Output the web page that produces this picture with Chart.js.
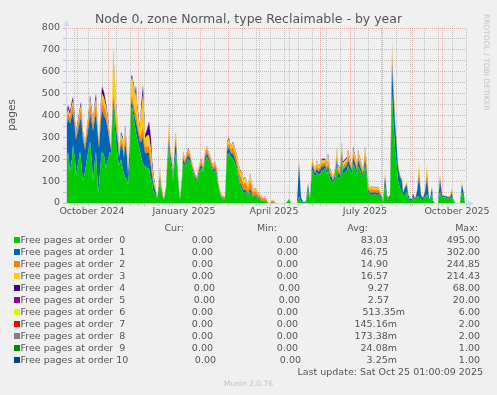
<!DOCTYPE html>
<html>
<head>
<meta charset="utf-8">
<script src="https://cdn.jsdelivr.net/npm/chart.js@4.4.1/dist/chart.umd.min.js"></script>
<style>
  body { margin: 0; background: #F0F0F0; }
  #wrap { position: relative; width: 497px; height: 395px; background: #F0F0F0; overflow: hidden;
          font-family: "DejaVu Sans", sans-serif; color: #555; }
  #chart { position: absolute; left: 0; top: 0; }
  .t { position: absolute; white-space: pre; font-size: 9.5px; line-height: 12px; }
  #title { position: absolute; left: 0; top: 11px; width: 497px; text-align: center; font-size: 12.5px; line-height: 15px; }
  #ylab { position: absolute; left: -19px; top: 109px; width: 60px; text-align: center; font-size: 10.5px;
          line-height: 12px; transform: rotate(-90deg); }
  #rrd { position: absolute; left: 482px; top: 14px; writing-mode: vertical-rl; font-size: 7.5px; color: #C4C4C4; }
  #munin { position: absolute; left: 0; top: 379px; width: 497px; text-align: center; font-size: 7.5px; color: #C4C4C4; }
  .box { position: absolute; width: 6px; height: 6px; }
</style>
</head>
<body>
<div id="wrap">
  <canvas id="chart" width="497" height="225"></canvas>
  <div id="title">Node 0, zone Normal, type Reclaimable - by year</div>
  <div id="ylab">pages</div>
  <div id="rrd">RRDTOOL / TOBI OETIKER</div>
  <div id="legend"></div>
  <div id="munin">Munin 2.0.76</div>
</div>
<script>
// days since the start of the graph (Sep 20 2024)
const days = [
  0, 2, 4, 6, 7, 9, 10, 12, 14, 15,
  17, 19, 21, 23, 24, 26, 27, 29, 30, 32,
  33, 35, 36, 38, 40, 42, 44, 45, 46, 47,
  48, 49, 50, 52, 53, 55, 57, 58, 59, 61,
  62, 64, 65, 66, 68, 69, 70, 71, 73, 74,
  75, 77, 78, 79, 81, 83, 84, 85, 86, 87,
  88, 90, 91, 92, 94, 95, 97, 98, 100, 101,
  103, 104, 106, 107, 109, 110, 112, 114, 116, 117,
  119, 120, 122, 124, 126, 129, 131, 132, 134, 136,
  137, 139, 141, 142, 144, 146, 147, 149, 151, 152,
  154, 156, 159, 161, 163, 165, 167, 169, 171, 172,
  174, 176, 177, 179, 181, 182, 184, 186, 187, 189,
  191, 192, 194, 196, 197, 199, 201, 202, 204, 206,
  208, 210, 220, 223, 225, 231, 233, 235, 237, 239,
  240, 242, 244, 246, 247, 249, 251, 252, 254, 256,
  257, 259, 261, 262, 264, 266, 267, 269, 271, 272,
  274, 276, 277, 279, 281, 282, 284, 286, 287, 289,
  291, 292, 294, 296, 297, 299, 301, 302, 304, 306,
  307, 309, 311, 312, 314, 316, 317, 319, 321, 322,
  324, 326, 327, 328, 329, 331, 332, 334, 336, 337,
  339, 341, 342, 344, 346, 347, 349, 351, 353, 355,
  357, 359, 361, 363, 364, 366, 367, 369, 372, 374,
  376, 378, 380, 382, 384, 386, 387, 389, 394, 396,
  398, 399, 400
];

// free pages at order 0
const order0 = [
  160, 235, 144, 200, 266, 200, 128, 180, 235, 200,
  98, 144, 200, 260, 280, 180, 98, 200, 235, 52,
  80, 200, 235, 220, 159, 200, 235, 220, 330, 450,
  420, 340, 280, 200, 170, 200, 150, 130, 120, 110,
  80, 200, 420, 440, 380, 350, 320, 300, 260, 235,
  210, 180, 170, 170, 159, 159, 130, 110, 98, 60,
  50, 30, 20, 40, 100, 60, 25, 15, 60, 150,
  250, 200, 150, 100, 200, 230, 100, 15, 100, 180,
  170, 180, 200, 190, 150, 110, 100, 120, 150, 160,
  140, 190, 210, 200, 180, 150, 140, 150, 120, 80,
  40, 20, 15, 220, 230, 210, 200, 180, 150, 120,
  80, 60, 50, 50, 40, 30, 50, 40, 25, 30,
  25, 20, 15, 10, 10, 10, 5, 0, 0, 0,
  0, 0, 0, 15, 0, 0, 30, 5, 0, 0,
  5, 60, 15, 150, 140, 120, 140, 130, 130, 150,
  145, 160, 130, 150, 110, 100, 90, 110, 170, 120,
  110, 200, 130, 140, 150, 170, 150, 130, 180, 160,
  130, 170, 150, 120, 110, 170, 110, 50, 35, 40,
  35, 40, 35, 40, 30, 20, 0, 80, 25, 15,
  25, 495, 400, 330, 250, 160, 100, 70, 55, 30,
  40, 50, 25, 10, 10, 25, 10, 30, 30, 20,
  12, 30, 40, 10, 10, 40, 5, 0, 0, 50,
  25, 25, 25, 20, 22, 30, 15, 0, 0, 50,
  25, 0, 0
];

// order 1
const order1 = [
  180, 150, 220, 200, 150, 130, 160, 150, 140, 190,
  190, 100, 100, 100, 130, 180, 230, 190, 170, 240,
  170, 180, 190, 180, 220, 130, 35, 22, 30, 20,
  25, 60, 60, 70, 35, 70, 90, 75, 160, 100,
  45, 60, 30, 25, 35, 35, 50, 45, 40, 45,
  70, 120, 90, 60, 70, 70, 60, 55, 30, 35,
  25, 12, 2, 6, 15, 10, 3, 1, 5, 10,
  40, 25, 25, 15, 50, 45, 12, 2, 10, 20,
  10, 15, 20, 15, 12, 10, 6, 10, 15, 15,
  6, 15, 20, 15, 12, 12, 10, 12, 12, 6,
  4, 3, 3, 20, 25, 18, 25, 20, 15, 15,
  12, 15, 10, 12, 10, 8, 15, 8, 5, 6,
  5, 4, 3, 2, 2, 2, 1, 0, 0, 2,
  1, 0, 0, 3, 0, 0, 150, 20, 5, 5,
  5, 25, 5, 25, 20, 15, 20, 15, 20, 20,
  20, 15, 18, 25, 18, 15, 12, 18, 30, 20,
  18, 30, 22, 22, 22, 28, 20, 18, 28, 22,
  20, 28, 22, 20, 18, 30, 20, 12, 10, 12,
  10, 10, 10, 10, 8, 5, 5, 40, 10, 6,
  10, 150, 130, 120, 110, 75, 65, 50, 45, 18,
  30, 30, 15, 8, 8, 18, 8, 20, 90, 15,
  10, 20, 70, 8, 8, 30, 5, 0, 0, 60,
  10, 6, 6, 6, 6, 15, 6, 0, 0, 35,
  12, 0, 0
];

// order 2
const order2 = [
  25, 30, 25, 35, 35, 25, 20, 25, 35, 40,
  25, 18, 30, 40, 45, 35, 30, 40, 45, 22,
  18, 40, 45, 45, 35, 25, 12, 8, 15, 20,
  25, 30, 30, 25, 12, 25, 25, 20, 35, 25,
  10, 30, 25, 25, 30, 30, 40, 35, 25, 25,
  40, 45, 40, 25, 30, 30, 35, 30, 20, 20,
  15, 8, 2, 8, 25, 15, 6, 3, 8, 25,
  45, 20, 15, 8, 25, 25, 8, 2, 10, 20,
  12, 15, 18, 15, 12, 12, 8, 12, 15, 15,
  8, 18, 20, 15, 17, 17, 15, 17, 17, 11,
  10, 7, 7, 20, 22, 17, 30, 28, 30, 30,
  35, 35, 28, 32, 28, 24, 40, 24, 17, 19,
  17, 15, 13, 11, 8, 11, 5, 3, 0, 9,
  6, 0, 0, 2, 0, 0, 10, 3, 0, 0,
  0, 8, 0, 15, 15, 12, 17, 12, 15, 15,
  15, 12, 14, 20, 14, 12, 9, 14, 20, 15,
  14, 22, 16, 17, 17, 20, 14, 12, 20, 16,
  14, 20, 16, 17, 15, 28, 25, 15, 13, 15,
  13, 13, 13, 13, 12, 5, 0, 12, 3, 2,
  3, 50, 35, 25, 20, 12, 8, 5, 5, 2,
  5, 10, 5, 1, 1, 4, 1, 6, 35, 3,
  2, 6, 40, 1, 1, 6, 0, 0, 0, 15,
  3, 2, 2, 2, 4, 14, 2, 0, 0, 8,
  2, 0, 0
];

// order 3
const order3 = [
  15, 15, 15, 15, 15, 10, 8, 12, 15, 15,
  8, 6, 10, 15, 20, 12, 12, 20, 25, 8,
  7, 25, 30, 35, 25, 20, 10, 5, 20, 200,
  160, 115, 75, 45, 12, 20, 22, 15, 25, 15,
  5, 45, 85, 85, 80, 70, 100, 60, 40, 32,
  90, 150, 95, 40, 50, 50, 50, 45, 25, 20,
  15, 6, 1, 5, 20, 12, 5, 2, 6, 12,
  25, 12, 8, 5, 18, 16, 6, 2, 6, 10,
  6, 7, 8, 7, 8, 6, 5, 6, 7, 7,
  5, 9, 9, 7, 8, 8, 7, 8, 8, 6,
  5, 4, 4, 15, 15, 11, 20, 17, 20, 20,
  23, 25, 18, 22, 18, 15, 27, 15, 11, 13,
  11, 9, 8, 6, 4, 6, 3, 2, 0, 4,
  3, 0, 0, 0, 0, 0, 8, 2, 0, 0,
  0, 5, 0, 12, 12, 10, 14, 10, 12, 14,
  14, 12, 12, 20, 12, 9, 6, 12, 22, 14,
  12, 20, 15, 15, 15, 18, 12, 11, 20, 15,
  12, 18, 12, 14, 12, 22, 20, 11, 10, 11,
  10, 10, 10, 10, 9, 5, 0, 10, 2, 2,
  2, 40, 28, 20, 16, 9, 6, 4, 4, 2,
  5, 8, 5, 1, 1, 3, 1, 4, 25, 2,
  1, 4, 30, 1, 1, 4, 0, 0, 0, 12,
  2, 2, 2, 2, 3, 10, 2, 0, 0, 5,
  1, 0, 0
];

// order 4
const order4 = [
  15, 15, 12, 15, 16, 12, 8, 10, 12, 15,
  7, 5, 8, 12, 16, 10, 8, 16, 24, 6,
  4, 20, 28, 25, 17, 12, 4, 2, 4, 10,
  9, 12, 12, 8, 4, 10, 10, 8, 15, 8,
  3, 12, 10, 10, 12, 12, 25, 16, 12, 10,
  25, 40, 30, 14, 25, 55, 55, 52, 22, 16,
  8, 3, 0, 1, 5, 2, 1, 0, 1, 2,
  5, 2, 2, 2, 4, 4, 2, 0, 2, 4,
  2, 3, 4, 3, 3, 2, 1, 2, 3, 3,
  1, 3, 3, 3, 3, 3, 3, 3, 3, 2,
  1, 1, 1, 5, 5, 3, 5, 4, 4, 4,
  4, 4, 3, 3, 3, 2, 4, 2, 2, 2,
  2, 2, 1, 1, 1, 1, 1, 0, 0, 0,
  0, 0, 0, 0, 0, 0, 2, 0, 0, 0,
  0, 0, 0, 3, 3, 2, 4, 3, 3, 6,
  6, 6, 6, 10, 5, 4, 3, 5, 8, 6,
  5, 8, 7, 6, 6, 8, 4, 4, 9, 7,
  4, 8, 5, 4, 4, 7, 5, 2, 2, 2,
  2, 2, 2, 2, 1, 0, 0, 2, 0, 0,
  0, 8, 6, 4, 3, 2, 1, 1, 1, 0,
  0, 0, 0, 0, 0, 0, 0, 0, 0, 0,
  0, 0, 0, 0, 0, 0, 0, 0, 0, 0,
  0, 0, 0, 0, 0, 0, 0, 0, 0, 0,
  0, 0, 0
];

// order 5
const order5 = [
  5, 4, 4, 5, 5, 3, 3, 3, 3, 4,
  2, 2, 2, 3, 4, 3, 2, 4, 4, 2,
  2, 5, 5, 5, 4, 3, 2, 1, 1, 1,
  1, 3, 3, 2, 2, 2, 3, 2, 3, 2,
  1, 3, 2, 2, 3, 3, 6, 4, 3, 3,
  5, 6, 5, 3, 6, 9, 10, 8, 5, 4,
  2, 1, 0, 0, 1, 1, 0, 0, 0, 1,
  1, 1, 0, 0, 1, 1, 0, 0, 0, 1,
  0, 0, 1, 0, 0, 0, 0, 0, 0, 0,
  0, 0, 1, 0, 0, 0, 0, 0, 0, 0,
  0, 0, 0, 1, 1, 1, 1, 1, 1, 1,
  1, 1, 1, 1, 1, 1, 1, 1, 0, 0,
  0, 0, 0, 0, 0, 0, 0, 0, 0, 0,
  0, 0, 0, 0, 0, 0, 0, 0, 0, 0,
  0, 0, 0, 0, 0, 0, 0, 0, 0, 0,
  0, 0, 0, 2, 0, 0, 0, 0, 1, 0,
  0, 1, 0, 0, 0, 0, 0, 0, 1, 0,
  0, 0, 0, 0, 0, 1, 0, 0, 0, 0,
  0, 0, 0, 0, 0, 0, 0, 0, 0, 0,
  0, 2, 1, 1, 1, 0, 0, 0, 0, 0,
  0, 0, 0, 0, 0, 0, 0, 0, 0, 0,
  0, 0, 0, 0, 0, 0, 0, 0, 0, 0,
  0, 0, 0, 0, 0, 0, 0, 0, 0, 0,
  0, 0, 0
];

// orders 6..10 are zero almost everywhere: [day, pages]
const order6 = [[30, 3], [36, 4], [70, 6], [77, 5], [83, 4], [84, 5]];
const order7 = [[36, 2], [77, 1]];
const order8 = [[70, 2], [84, 1]];
const order9 = [[84, 1]];
const order10 = [[77, 1]];

// legend
const seriesNames = [
  "Free pages at order  0", "Free pages at order  1", "Free pages at order  2",
  "Free pages at order  3", "Free pages at order  4", "Free pages at order  5",
  "Free pages at order  6", "Free pages at order  7", "Free pages at order  8",
  "Free pages at order  9", "Free pages at order 10"
];
const curValues = ["0.00", "0.00", "0.00", "0.00", "0.00", "0.00", "0.00", "0.00", "0.00", "0.00", "0.00"];
const minValues = ["0.00", "0.00", "0.00", "0.00", "0.00", "0.00", "0.00", "0.00", "0.00", "0.00", "0.00"];
const avgValues = ["83.03", "46.75", "14.90", "16.57", "9.27", "2.57", "513.35m", "145.16m", "173.38m", "24.08m", "3.25m"];
const maxValues = ["495.00", "302.00", "244.85", "214.43", "68.00", "20.00", "6.00", "2.00", "2.00", "1.00", "1.00"];
const colors = ["#00CC00", "#0066B3", "#FF8000", "#FFCC00", "#330099", "#990099",
                "#CCFF00", "#FF0000", "#808080", "#008F00", "#00487D"];

// x axis: month starts, two-week grid, labels in mid month
const monthDays = [11, 42, 72, 103, 134, 162, 193, 223, 254, 284, 315, 346, 376];
const weekDays = [8, 22, 36, 50, 64, 78, 92, 106, 120, 134, 148, 162, 176, 190, 204, 218,
                  232, 246, 260, 274, 288, 302, 316, 330, 344, 358, 372, 386, 400];
const xLabels = { 26: "October 2024", 118: "January 2025", 208: "April 2025", 299: "July 2025", 391: "October 2025" };


// sparse list -> full series
function fromPairs(pairs) {
  return days.map(d => {
    const hit = pairs.find(p => p[0] === d);
    return hit ? hit[1] : 0;
  });
}

const allSeries = [order0, order1, order2, order3, order4, order5,
  fromPairs(order6), fromPairs(order7), fromPairs(order8), fromPairs(order9), fromPairs(order10)];

const datasets = allSeries.map((vals, i) => ({
  label: seriesNames[i],
  data: days.map((d, k) => ({ x: d, y: vals[k] })),
  backgroundColor: colors[i],
  borderWidth: 0,
  pointRadius: 0,
  tension: 0,
  fill: i === 0 ? "origin" : "-1"
}));


// grid colours (lighter dotted lines like rrdtool)
const majorGrid = "rgba(222, 79, 79, 0.42)";
const minorGrid = "rgba(143, 143, 143, 0.5)";
const tickFont = { family: "DejaVu Sans", size: 9.5 };

const xTickValues = [...new Set([...monthDays, ...weekDays, ...Object.keys(xLabels).map(Number)])].sort((a, b) => a - b);

function xGridColor(c) {
  const v = c.tick ? c.tick.value : null;
  if (monthDays.includes(v)) return majorGrid;
  if (weekDays.includes(v)) return minorGrid;
  return "rgba(0,0,0,0)";
}

function yGridColor(c) {
  const v = c.tick ? c.tick.value : 0;
  return v % 100 === 0 ? majorGrid : minorGrid;
}


// axis lines with arrows
const axisArrows = {
  id: "axisArrows",
  afterDraw(chart) {
    const c = chart.ctx;
    const a = chart.chartArea;
    c.save();
    c.strokeStyle = "#CFD6F8";
    c.fillStyle = "#CFD6F8";
    c.lineWidth = 1;
    c.beginPath();
    c.moveTo(a.left + 0.5, a.bottom + 0.5);
    c.lineTo(a.left + 0.5, a.top - 3);
    c.moveTo(a.left, a.bottom + 0.5);
    c.lineTo(a.right + 3, a.bottom + 0.5);
    c.stroke();
    c.beginPath();
    c.moveTo(a.left - 2.5, a.top - 2);
    c.lineTo(a.left + 3.5, a.top - 2);
    c.lineTo(a.left + 0.5, a.top - 8);
    c.closePath();
    c.fill();
    c.beginPath();
    c.moveTo(a.right + 2, a.bottom - 2.5);
    c.lineTo(a.right + 2, a.bottom + 3.5);
    c.lineTo(a.right + 8, a.bottom + 0.5);
    c.closePath();
    c.fill();
    c.restore();
  }
};


// chart
const chart = new Chart(document.getElementById("chart"), {
  type: "line",
  data: { datasets: datasets },
  options: {
    responsive: false,
    animation: false,
    devicePixelRatio: 1,
    layout: { padding: { top: 28, right: 31, left: 0, bottom: 0 } },
    plugins: {
      legend: { display: false },
      tooltip: { enabled: false },
      title: { display: false }
    },
    scales: {
      x: {
        type: "linear",
        min: 0,
        max: 400,
        afterFit: s => { s.height = 22; },
        afterBuildTicks: s => { s.ticks = xTickValues.map(v => ({ value: v })); },
        ticks: {
          autoSkip: false,
          maxRotation: 0,
          padding: 0,
          color: "#555",
          font: tickFont,
          callback: v => xLabels[v] || ""
        },
        grid: { color: xGridColor, tickColor: xGridColor, tickLength: 3, lineWidth: 1 },
        border: { display: false, dash: [1, 1] }
      },
      y: {
        type: "linear",
        stacked: true,
        min: 0,
        max: 800,
        afterFit: s => { s.width = 66; },
        afterBuildTicks: s => {
          const t = [];
          for (let v = 0; v <= 800; v += 50) t.push({ value: v });
          s.ticks = t;
        },
        ticks: {
          autoSkip: false,
          padding: 3,
          color: "#555",
          font: tickFont,
          callback: v => (v % 100 === 0 ? String(v) : "")
        },
        grid: { color: yGridColor, tickColor: yGridColor, tickLength: 3, lineWidth: 1 },
        border: { display: false, dash: [1, 1] }
      }
    }
  },
  plugins: [axisArrows]
});


// legend below the chart
const legend = document.getElementById("legend");

function addText(text, left, right, centerY) {
  const el = document.createElement("div");
  el.className = "t";
  el.textContent = text;
  el.style.top = (centerY - 6) + "px";
  if (right !== null) {
    el.style.right = (497 - right) + "px";
  } else {
    el.style.left = left + "px";
  }
  legend.appendChild(el);
}

// header
addText("Cur:", null, 184, 228);
addText("Min:", null, 277, 228);
addText("Avg:", null, 368, 228);
addText("Max:", null, 478, 228);

seriesNames.forEach((name, i) => {
  const y = 240 + 12 * i;
  const shift = (i === 4 || i === 5) ? 2 : (i === 10 ? 3 : 0);
  const avgRight = i < 6 ? 388 + (shift ? 1 : 0) : (i === 6 ? 405 : 397);

  const box = document.createElement("div");
  box.className = "box";
  box.style.left = "14px";
  box.style.top = (y - 3) + "px";
  box.style.background = colors[i];
  legend.appendChild(box);

  addText(name, 20.5, null, y);
  addText(curValues[i], null, 213 + shift, y);
  addText(minValues[i], null, 298 + shift, y);
  addText(avgValues[i], null, avgRight, y);
  addText(maxValues[i], null, 480, y);
});

addText("Last update: Sat Oct 25 01:00:09 2025", null, 483, 372);
</script>
</body>
</html>
